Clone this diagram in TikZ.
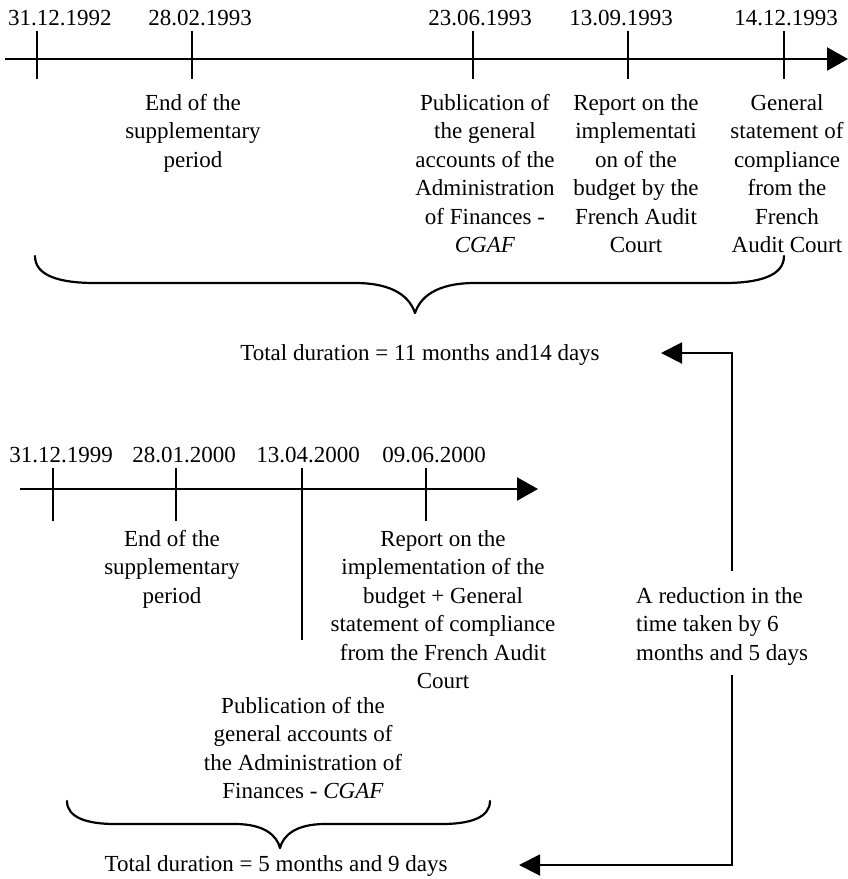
\documentclass[tikz,border=0pt]{standalone}
\usepackage{fontspec}
\setmainfont{Liberation Serif}
\usetikzlibrary{arrows.meta}
\begin{document}
\begin{tikzpicture}[x=1pt,y=-1pt,
  every node/.style={inner sep=0pt, font=\fontsize{23}{28.5}\selectfont},
  axis/.style={line width=2.3pt, -{Triangle[length=21pt,width=23pt]}},
  tick/.style={line width=2pt},
  datelbl/.style={anchor=base},
  note/.style={anchor=north, align=center},
  brace/.style={line width=2.2pt, line cap=round, line join=round},
  link/.style={line width=2pt, -{Triangle[length=21pt,width=21pt]}},
]
\useasboundingbox (0,0) rectangle (848,879);

% ---------- 1992/1993 timeline ----------
\coordinate (t1s) at (5,59);
\coordinate (t1e) at (848,59);
\draw[axis] (t1s) -- (t1e);
\foreach \x in {37,192,473,628,784} \draw[tick] (\x,31) -- (\x,79);

\node[datelbl] (d1) at (60,25.5) {31.12.1992};
\node[datelbl] (d2) at (200,25.5) {28.02.1993};
\node[datelbl] (d3) at (480,25.5) {23.06.1993};
\node[datelbl] (d4) at (621,25.5) {13.09.1993};
\node[datelbl] (d5) at (786,25.5) {14.12.1993};

\node[note] (e1) at (193,94) {End of the\\supplementary\\period};
\node[note] (e2) at (485,94) {Publication of\\the general\\accounts of the\\Administration\\of Finances -\\\textit{CGAF}};
\node[note] (e3) at (636,94) {Report on the\\implementati\\on of the\\budget by the\\French Audit\\Court};
\node[note] (e4) at (787,94) {General\\statement of\\compliance\\from the\\French\\Audit Court};

% brace spanning the first period
\draw[brace] (35,256) .. controls (35,276) and (60,283) .. (95,283)
  -- (355,283) .. controls (395,283) and (410,298) .. (415,313)
  .. controls (420,298) and (435,283) .. (475,283)
  -- (724,283) .. controls (759,283) and (784,276) .. (784,256);

\node (tot1) at (420,355) {Total duration = 11 months and14 days};

% ---------- 1999/2000 timeline ----------
\coordinate (t2s) at (20,489);
\coordinate (t2e) at (538,489);
\draw[axis] (t2s) -- (t2e);
\foreach \x in {53,176,426} \draw[tick] (\x,468) -- (\x,521);
\draw[tick] (302,468) -- (302,640);

\node[datelbl] (f1) at (61,462.5) {31.12.1999};
\node[datelbl] (f2) at (184,462.5) {28.01.2000};
\node[datelbl] (f3) at (308,462.5) {13.04.2000};
\node[datelbl] (f4) at (434,462.5) {09.06.2000};

\node[note] (g1) at (172,530) {End of the\\supplementary\\period};
\node[note] (g2) at (443,530) {Report on the\\implementation of the\\budget + General\\statement of compliance\\from the French Audit\\Court};
\node[note] (g3) at (303,697) {Publication of the\\general accounts of\\the Administration of\\Finances - \textit{CGAF}};

% brace spanning the second period
\draw[brace] (67,801) .. controls (67,818) and (88,824) .. (115,824)
  -- (235,824) .. controls (265,824) and (277,836) .. (280,848)
  .. controls (283,836) and (295,824) .. (325,824)
  -- (442,824) .. controls (469,824) and (490,818) .. (490,801);

\node (tot2) at (276,866) {Total duration = 5 months and 9 days};

% ---------- reduction between the two durations ----------
\node[anchor=north west, align=left] (red) at (636,587) {A reduction in the\\time taken by 6\\months and 5 days};
\coordinate (up0) at (732,571);
\coordinate (up1) at (732,353);
\coordinate (upt) at (661,353);
\coordinate (dn0) at (732,675);
\coordinate (dn1) at (732,865);
\coordinate (dnt) at (519,865);
\draw[link] (up0) -- (up1) -- (upt);
\draw[link] (dn0) -- (dn1) -- (dnt);
\end{tikzpicture}
\end{document}
